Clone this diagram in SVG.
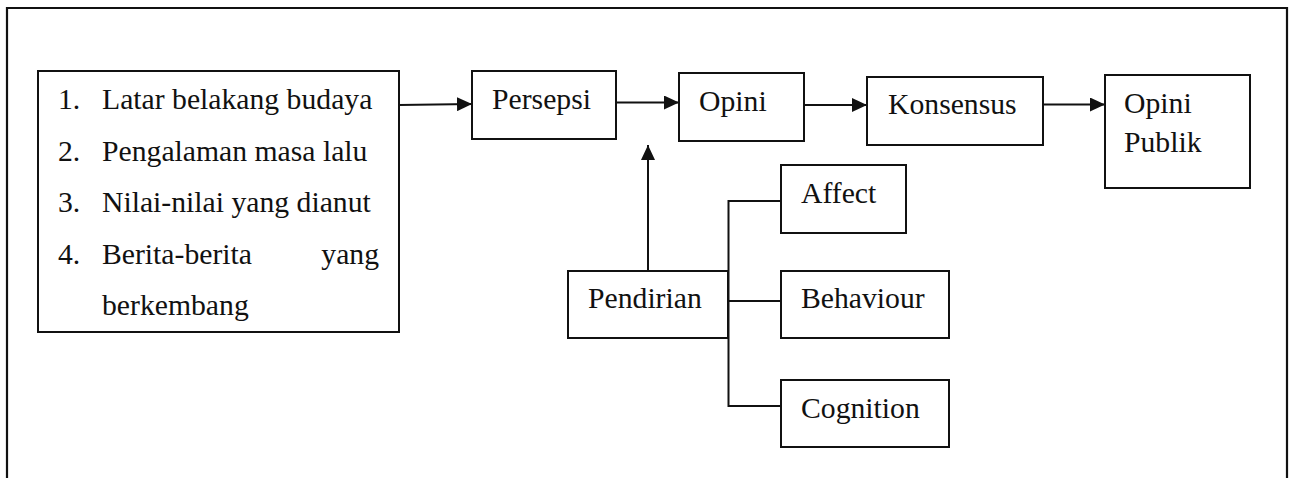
<svg xmlns="http://www.w3.org/2000/svg" width="1290" height="478" viewBox="0 0 1290 478">
<style>
.box{fill:#fff;stroke:#111;stroke-width:2}
text{font-family:'Liberation Serif','DejaVu Serif',serif;font-size:29.7px;fill:#111}
.ln{fill:none;stroke:#111;stroke-width:2}
</style>
<defs>
<marker id="ah" markerUnits="userSpaceOnUse" markerWidth="15" markerHeight="14" refX="15" refY="7" orient="auto">
<path d="M0,0 L15,7 L0,14 Z" fill="#111"/>
</marker>
</defs>
<rect width="1290" height="478" fill="#fff"/>
<path d="M7,478 V8 H1287 V478" fill="none" stroke="#111" stroke-width="2.2"/>
<g id="connectors">
<line class="ln" x1="399" y1="105" x2="472" y2="104" marker-end="url(#ah)"/>
<line class="ln" x1="616" y1="102.5" x2="679" y2="102.5" marker-end="url(#ah)"/>
<line class="ln" x1="804" y1="105" x2="867" y2="105" marker-end="url(#ah)"/>
<line class="ln" x1="1043" y1="104.5" x2="1105" y2="104.5" marker-end="url(#ah)"/>
<line class="ln" x1="648" y1="271" x2="648" y2="145" marker-end="url(#ah)"/>
<path class="ln" d="M781,201 H728.5 V406 H781"/>
<line class="ln" x1="728.5" y1="301" x2="781" y2="301"/>
</g>
<g id="faktor">
<rect class="box" x="38" y="71" width="361" height="261"/>
<text x="58" y="109">1.</text><text x="102" y="109">Latar belakang budaya</text>
<text x="58" y="161">2.</text><text x="102" y="161">Pengalaman masa lalu</text>
<text x="58" y="212">3.</text><text x="102" y="212">Nilai-nilai yang dianut</text>
<text x="58" y="264">4.</text><text x="102" y="264">Berita-berita</text><text x="379" y="264" text-anchor="end">yang</text>
<text x="102" y="315">berkembang</text>
</g>
<g id="persepsi">
<rect class="box" x="472" y="71" width="144" height="68"/>
<text x="492" y="109">Persepsi</text>
</g>
<g id="opini">
<rect class="box" x="679" y="73" width="125" height="68"/>
<text x="699" y="111">Opini</text>
</g>
<g id="konsensus">
<rect class="box" x="867" y="77" width="176" height="68"/>
<text x="888" y="114">Konsensus</text>
</g>
<g id="opini-publik">
<rect class="box" x="1105" y="75" width="145" height="113"/>
<text x="1124" y="113">Opini</text>
<text x="1124" y="152">Publik</text>
</g>
<g id="pendirian">
<rect class="box" x="568" y="271" width="160" height="67"/>
<text x="588" y="308">Pendirian</text>
</g>
<g id="affect">
<rect class="box" x="781" y="165" width="125" height="68"/>
<text x="801" y="203">Affect</text>
</g>
<g id="behaviour">
<rect class="box" x="781" y="271" width="168" height="67"/>
<text x="801" y="308">Behaviour</text>
</g>
<g id="cognition">
<rect class="box" x="781" y="380" width="168" height="67"/>
<text x="801" y="418">Cognition</text>
</g>
</svg>
